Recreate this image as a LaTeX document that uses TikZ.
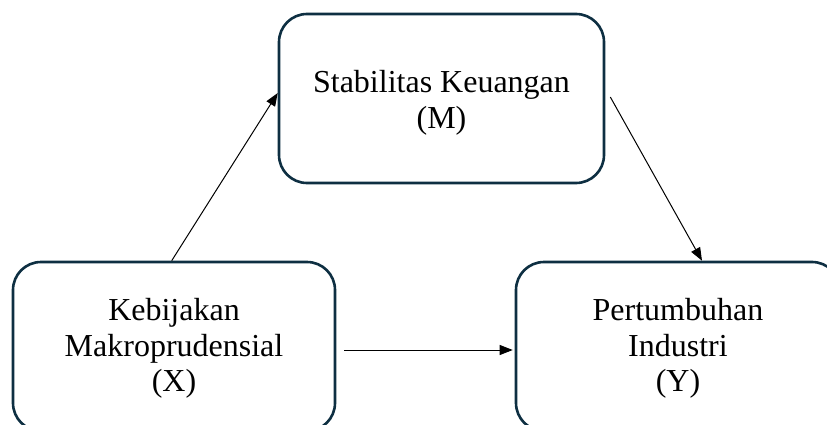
\documentclass[tikz,border=0pt]{standalone}
\usepackage{fontspec}
\setmainfont{Liberation Serif}
\usetikzlibrary{arrows.meta,calc}
\definecolor{boxline}{HTML}{0E2F42}
\tikzset{
  varbox/.style={draw=boxline, line width=2.6pt, rounded corners=28pt, fill=white,
    minimum width=#1, minimum height=169pt, inner sep=0pt},
  lbl/.style={align=center, inner sep=0pt, font=\fontsize{32}{35.5}\selectfont},
  conn/.style={black, line width=1pt, -{Triangle[length=13pt,width=10pt]}}
}
\begin{document}
\begin{tikzpicture}[x=1pt,y=-1pt]
\useasboundingbox (0,0) rectangle (827,425);
\clip (0,0) rectangle (827,425);
\node[varbox=325pt] (M) at (441.5,98.5) {};
\node[varbox=322pt] (X) at (174,346.5) {};
\node[varbox=324pt] (Y) at (678,346.5) {};
\node[lbl] (Mt) at ([yshift=-4.5pt]M.center) {Stabilitas Keuangan\\(M)};
\node[lbl] (Xt) at ([yshift=-2pt]X.center) {Kebijakan\\Makroprudensial\\(X)};
\node[lbl] (Yt) at ([yshift=-2pt]Y.center) {Pertumbuhan\\Industri\\(Y)};
\draw[conn] ([xshift=160pt]X.north west) -- ([yshift=5.5pt]M.west);
\draw[conn] ([xshift=5pt,yshift=1.5pt]M.east) -- ([xshift=24pt]Y.north);
\draw[conn] ([xshift=8pt,yshift=-3.5pt]X.east) -- ([xshift=-2pt,yshift=-3.5pt]Y.west);
\end{tikzpicture}
\end{document}
